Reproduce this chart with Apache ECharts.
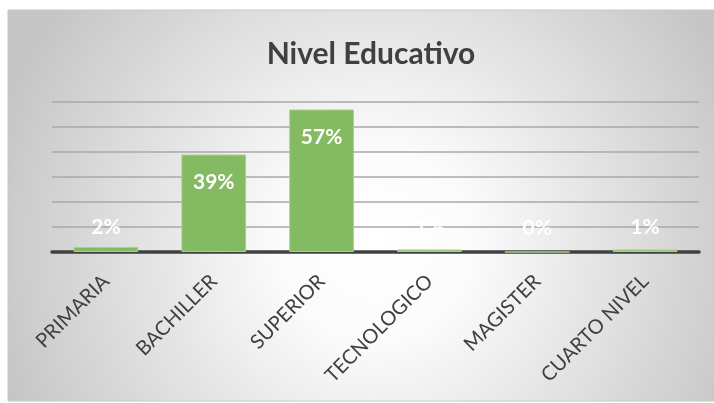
<!DOCTYPE html>
<html>
<head>
<meta charset="utf-8">
<script src="https://cdn.jsdelivr.net/npm/echarts@6/dist/echarts.min.js"></script>
<style>
  html, body { margin: 0; padding: 0; background: #fff; }
  #chart { width: 714px; height: 403px; }
</style>
</head>
<body>
<div id="chart"></div>
<script>
// categories and percentages
const categories = ['PRIMARIA', 'BACHILLER', 'SUPERIOR', 'TECNOLOGICO', 'MAGISTER', 'CUARTO NIVEL']
const percents = [2, 39, 57, 1, 0, 1]

const chart = echarts.init(document.getElementById('chart'))

// small bars get their label sitting above the baseline, big ones inside the top
const barData = percents.map((v) => {
  if (v < 10) {
    return { value: v, label: { position: 'insideBottom', distance: 14 } }
  }
  return { value: v }
})

chart.setOption({
  animation: false,
  graphic: [{
    type: 'rect',
    z: -100,
    shape: { x: 8, y: 10, width: 706, height: 391 },
    style: {
      fill: new echarts.graphic.RadialGradient(0.52, 0.6, 1.0, [
        { offset: 0, color: '#ffffff' },
        { offset: 0.25, color: '#fbfbfb' },
        { offset: 1, color: '#c6c6c6' }
      ]),
      stroke: '#c8c8c8',
      lineWidth: 1
    }
  }],
  title: {
    text: 'Nivel Educativo',
    left: 366,
    top: 34,
    textAlign: 'center',
    textStyle: {
      fontFamily: 'Lato',
      fontWeight: 'bold',
      fontSize: 30,
      color: '#404040'
    }
  },
  grid: { left: 52, right: 15, top: 102, bottom: 151 },
  xAxis: {
    type: 'category',
    data: categories,
    axisLine: { lineStyle: { color: '#404040', width: 3.5 } },
    axisTick: { show: false },
    axisLabel: {
      rotate: 45,
      interval: 0,
      margin: 26,
      fontFamily: 'Lato',
      fontSize: 20,
      color: '#404040'
    }
  },
  yAxis: {
    type: 'value',
    min: 0,
    max: 60,
    interval: 10,
    axisLabel: { show: false },
    axisLine: { show: false },
    axisTick: { show: false },
    splitLine: { lineStyle: { color: '#a8a8a8', width: 1.5 } }
  },
  series: [{
    type: 'bar',
    data: barData,
    barCategoryGap: '40%',
    itemStyle: { color: '#84ba62', borderColor: '#a9d08e', borderWidth: 1 },
    label: {
      show: true,
      position: 'insideTop',
      distance: 17,
      formatter: '{c}%',
      fontFamily: 'Lato',
      fontWeight: 'bold',
      fontSize: 21,
      color: '#ffffff'
    }
  }]
})
</script>
</body>
</html>
